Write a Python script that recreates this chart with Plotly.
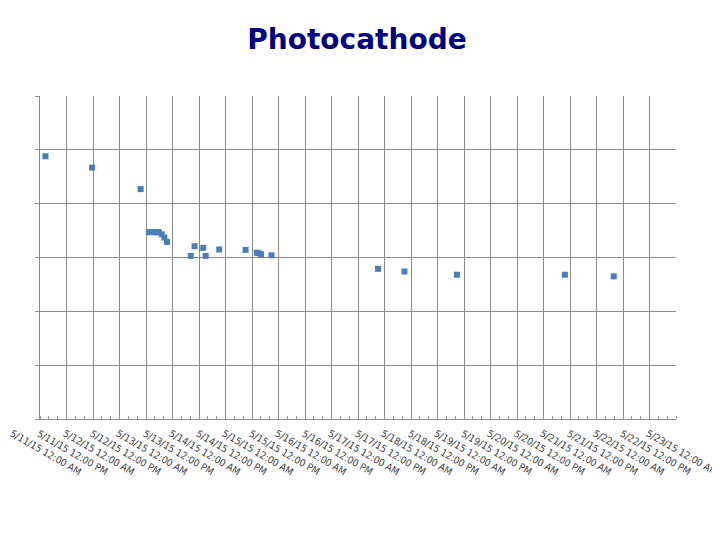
import plotly.graph_objects as go
from datetime import datetime, timedelta

# ---- data ----
times = [
    "2015-05-11 02:28", "2015-05-11 23:34", "2015-05-12 21:34",
    "2015-05-13 01:20", "2015-05-13 03:18", "2015-05-13 04:44", "2015-05-13 05:49",
    "2015-05-13 07:07", "2015-05-13 08:20", "2015-05-13 09:30",
    "2015-05-13 20:16", "2015-05-13 22:00", "2015-05-14 01:54", "2015-05-14 03:00",
    "2015-05-14 09:09", "2015-05-14 21:05", "2015-05-15 02:12", "2015-05-15 02:56",
    "2015-05-15 04:07", "2015-05-15 08:48",
    "2015-05-17 09:04", "2015-05-17 21:02", "2015-05-18 20:47",
    "2015-05-20 21:41", "2015-05-21 19:49",
]
values = [
    4.88, 4.67, 4.27,
    3.47, 3.47, 3.47, 3.47,
    3.43, 3.37, 3.29,
    3.03, 3.21, 3.18, 3.03,
    3.15, 3.14, 3.09, 3.08,
    3.06, 3.04,
    2.79, 2.74, 2.68,
    2.68, 2.65,
]

start = datetime(2015, 5, 11, 0, 0)
tick_times = [start + timedelta(hours=12 * i) for i in range(25)]
tick_labels = [
    f"{t.month}/{t.day}/15 12:00 {'AM' if t.hour == 0 else 'PM'}" for t in tick_times
]
x_range = ["2015-05-11 00:00", "2015-05-23 00:00"]
y_range = [0, 6]

fig = go.Figure()
fig.add_trace(go.Scatter(
    x=times, y=values, mode="markers",
    marker=dict(symbol="square", size=6, color="#4a7ebb"),
    showlegend=False,
))

grid_col = "#8c8c8c"
fig.update_xaxes(
    type="date", range=x_range,
    tickmode="array", tickvals=tick_times[:24], showticklabels=False,
    showgrid=True, gridcolor=grid_col, gridwidth=1,
    showline=True, linecolor=grid_col, linewidth=1,
    ticks="", zeroline=False,
    minor=dict(dtick=4 * 3600 * 1000, ticks="inside", ticklen=3,
               tickcolor=grid_col, showgrid=False),
)
fig.update_yaxes(
    range=y_range, dtick=1, showticklabels=False,
    showgrid=True, gridcolor=grid_col, gridwidth=1,
    showline=True, linecolor=grid_col, linewidth=1,
    ticks="outside", ticklen=4, tickcolor=grid_col, zeroline=False,
)

annotations = []
for t, lab in zip(tick_times, tick_labels):
    annotations.append(dict(
        x=t, xref="x", y=0, yref="paper",
        text=lab, showarrow=False, textangle=30,
        xanchor="center", yanchor="middle", xshift=6, yshift=-33,
        font=dict(family="Liberation Sans Narrow, DejaVu Sans Condensed, Lato, sans-serif",
                  size=10, color="#404040"),
    ))

# page has an 8px body margin, so the figure is drawn 8px in from the top-left
fig.update_layout(
    width=712, height=532,
    margin=dict(l=32, r=44, t=88, b=121),
    plot_bgcolor="white", paper_bgcolor="white",
    title=dict(text="<b>Photocathode</b>", x=349 / 712, xanchor="center",
               y=1 - 31 / 532, yanchor="middle",
               font=dict(family="DejaVu Sans, sans-serif", size=28, color="#000080")),
    annotations=annotations,
)

fig.write_html("out.html")
